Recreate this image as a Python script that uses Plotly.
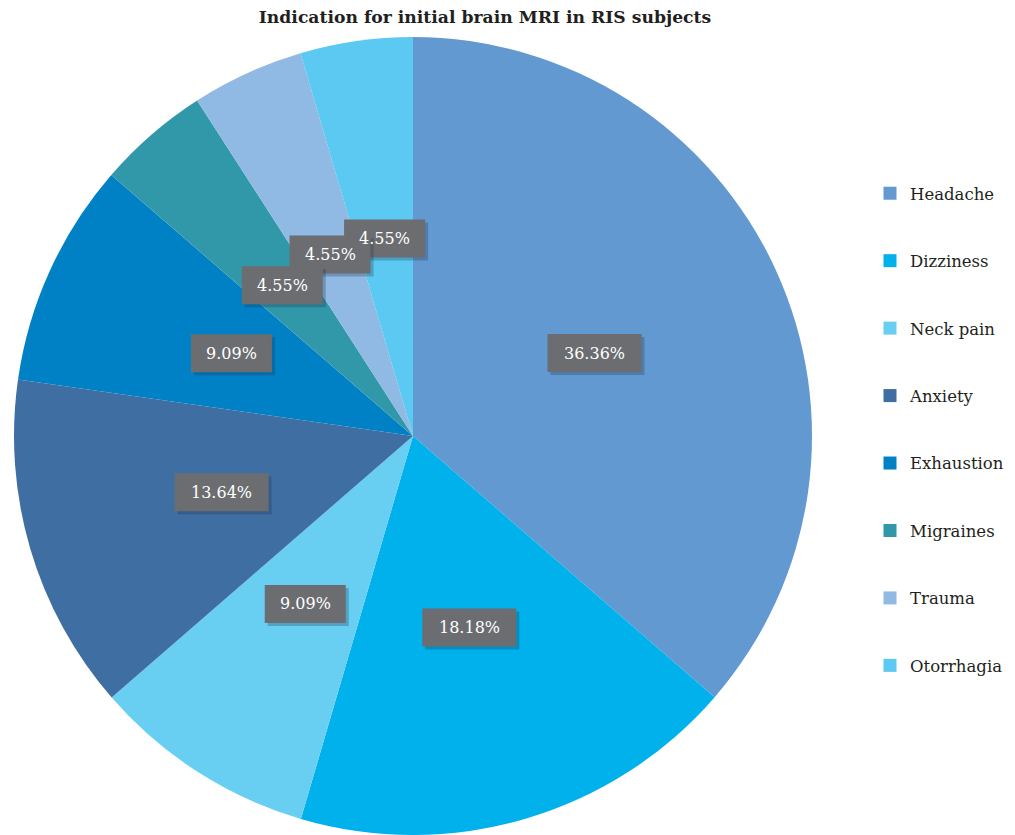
import math
import plotly.graph_objects as go

# ---- data ----
categories = ["Headache", "Dizziness", "Neck pain", "Anxiety", "Exhaustion",
              "Migraines", "Trauma", "Otorrhagia"]
percentages = [36.36, 18.18, 9.09, 13.64, 9.09, 4.55, 4.55, 4.55]
pct_labels = ["36.36%", "18.18%", "9.09%", "13.64%", "9.09%", "4.55%", "4.55%", "4.55%"]
colors = ["#6399D1", "#00B1EB", "#68CEF2", "#3F6EA2", "#0081C6",
          "#3198A9", "#90B9E3", "#5BC9F2"]
title_text = "Indication for initial brain MRI in RIS subjects"

W, H = 1015, 835
FONT = "DejaVu Serif"

# pie placement (pixels)
cx, cy, R = 413, 436, 399
dom_x = [(cx - R) / W, (cx + R) / W]
dom_y = [(H - cy - R) / H, (H - cy + R) / H]

fig = go.Figure()
fig.add_trace(go.Pie(
    labels=categories, values=percentages, sort=False, direction="clockwise",
    rotation=0, marker=dict(colors=colors, line=dict(width=0)),
    textinfo="none", hoverinfo="label+percent", showlegend=False,
    domain=dict(x=dom_x, y=dom_y),
))

# legend via dummy traces (to control spacing)
for i, (c, col) in enumerate(zip(categories, colors)):
    fig.add_trace(go.Scatter(
        x=[None], y=[None], mode="markers", name=c, legendgroup=f"g{i}",
        marker=dict(symbol="square", size=13, color=col),
    ))

# value labels at half radius along slice mid-angle
total = sum(percentages)
cum = 0.0
positions = []
for v, t in zip(percentages, pct_labels):
    mid = (cum + v / 2) / total * 2 * math.pi
    cum += v
    px = cx + 0.5 * R * math.sin(mid)
    py = cy - 0.5 * R * math.cos(mid)
    positions.append((px / W, 1 - py / H, t))

# label boxes as pixel-sized shapes (reverse order so later boxes are below)
for ax, ay, t in reversed(positions):
    hw = 47 if len(t) > 5 else 40.5
    hh = 19
    for dx, dy, col in [(3, -3, "rgba(30,50,80,0.28)"), (0, 0, "#6B6D70")]:
        fig.add_shape(type="rect", xref="paper", yref="paper",
                      xsizemode="pixel", ysizemode="pixel",
                      xanchor=ax, yanchor=ay,
                      x0=-hw + dx, x1=hw + dx, y0=-hh + dy, y1=hh + dy,
                      fillcolor=col, line=dict(width=0), layer="above")
for ax, ay, t in positions:
    fig.add_annotation(x=ax, y=ay, text=t, xref="paper", yref="paper",
                       showarrow=False, xanchor="center", yanchor="middle",
                       font=dict(color="white", size=16, family=FONT))

fig.update_layout(
    width=W, height=H,
    margin=dict(l=0, r=0, t=0, b=0, autoexpand=False),
    paper_bgcolor="white", plot_bgcolor="white",
    xaxis=dict(visible=False), yaxis=dict(visible=False),
    title=dict(text=f"<b>{title_text}</b>", x=485 / W, xanchor="center",
               y=1 - 17 / H, yanchor="middle",
               font=dict(family=FONT, size=17.2, color="#231F20")),
    legend=dict(x=870 / W, y=1 - 176 / H, xanchor="left", yanchor="top",
                tracegroupgap=43, itemwidth=30,
                font=dict(family=FONT, size=16.5, color="#231F20")),
    font=dict(family=FONT),
)

fig.write_html("out.html", config={"displayModeBar": False},
               post_script="document.body.style.margin='0';document.body.style.overflow='hidden';")
